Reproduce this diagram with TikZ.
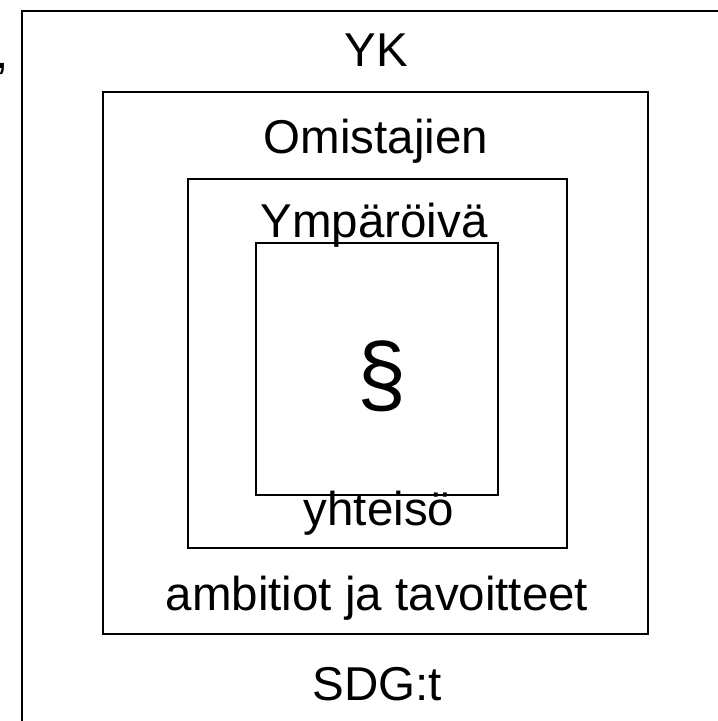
\documentclass[tikz,border=0pt]{standalone}
\usepackage{fontspec}
\setmainfont{Liberation Sans}
\begin{document}
\begin{tikzpicture}[x=1pt,y=-1pt,
  frame/.style={draw=black, line width=1.8pt, inner sep=0pt, outer sep=0pt, fill=none},
  lbl/.style={inner sep=0pt, anchor=base, font=\fontsize{47.5}{57}\selectfont}]
\useasboundingbox (0,0) rectangle (718,721);
\clip (0,0) rectangle (718,721);
\node[frame, minimum width=708pt, minimum height=729pt] (outer) at (376,375.5) {};
\node[frame, minimum width=545pt, minimum height=542pt] (b2) at (375.5,363) {};
\node[frame, minimum width=379pt, minimum height=369pt] (b3) at (377.5,363.5) {};
\node[frame, minimum width=242pt, minimum height=252pt] (b4) at (377,369) {};
\node[lbl, anchor=base west] (comma) at (-4.5,68) {,};
\node[lbl] (yk) at (376,66) {YK};
\node[lbl] (omist) at (376,153) {Omistajien};
\node[lbl] (ymp) at (374,237) {Ympäröivä};
\node[inner sep=0pt, font=\fontsize{88}{98}\selectfont] (para) at (382,376) {§};
\node[lbl] (yht) at (379,525) {yhteisö};
\node[lbl] (amb) at (377,610) {ambitiot ja tavoitteet};
\node[lbl] (sdg) at (377,700) {SDG:t};
\end{tikzpicture}
\end{document}
